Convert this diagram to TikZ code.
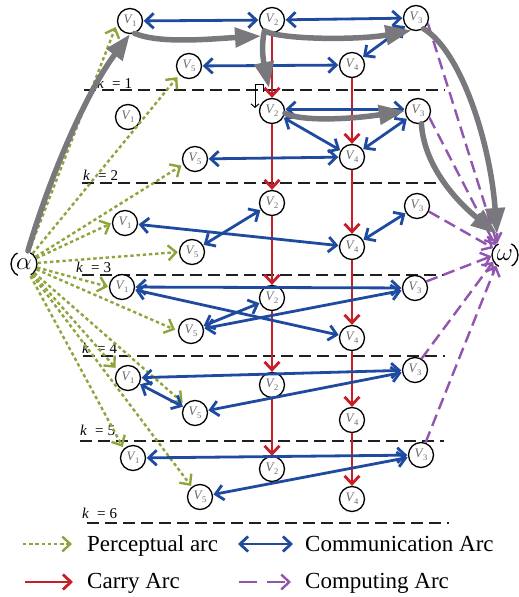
\documentclass[tikz,border=0pt]{standalone}
\usepackage{fontspec}
\setmainfont{Liberation Serif}
\usetikzlibrary{arrows.meta}

\definecolor{commblue}{HTML}{1E4BA0}
\definecolor{carryred}{HTML}{C81E28}
\definecolor{percgreen}{HTML}{8CA53C}
\definecolor{compviolet}{HTML}{9155AF}
\definecolor{pathgray}{HTML}{78787D}
\definecolor{labelgray}{HTML}{6A6A6A}

% node label V with a subscript index
\newcommand{\vlab}[1]{\textit{V}\kern-0.8pt\raisebox{-2.8pt}{\fontsize{8.5}{8.5}\selectfont #1}}
\newcommand{\klab}[1]{\textit{k}\hspace{8pt}=\hspace{4pt}#1}

\begin{document}
\begin{tikzpicture}[x=1pt, y=-1pt,
  vnode/.style={circle, draw=black, line width=1.3pt, minimum size=25pt, inner sep=0pt,
    fill=white, text=labelgray, font=\fontsize{13}{13}\selectfont},
  endnode/.style={circle, draw=black, line width=1.3pt, minimum size=26pt, inner sep=0pt,
    dash pattern=on 27.2pt off 13.6pt, dash phase=13.6pt, font=\fontsize{30}{30}\selectfont},
  barbtip/.tip={Straight Barb[length=8pt, width=15pt]},
  percarc/.style={draw=percgreen, line width=2.4pt, dash pattern=on 3.4pt off 2.8pt, -barbtip},
  commarc/.style={draw=commblue, line width=2.8pt, barbtip-barbtip, shorten <=0.5pt, shorten >=0.5pt},
  carryarc/.style={draw=carryred, line width=2.8pt, -barbtip},
  comparc/.style={draw=compviolet, line width=2.4pt, dash pattern=on 12pt off 6pt, -barbtip},
  patharc/.style={draw=pathgray, line width=5.5pt, line cap=round, -{Triangle[length=26pt, width=19pt]}},
  layerline/.style={draw=black!88, line width=1.5pt, dash pattern=on 12pt off 6pt},
  klabel/.style={anchor=base west, inner sep=0pt, font=\fontsize{15}{15}\selectfont},
  legtext/.style={anchor=base west, inner sep=0pt, font=\fontsize{23}{23}\selectfont},
]
\useasboundingbox (0,0) rectangle (519,597);

% time-slice separators and their labels
\draw[layerline] (84,90) -- (445,90);
\draw[layerline] (82,183) -- (445,183);
\draw[layerline] (82,275) -- (444,275);
\draw[layerline] (83,356) -- (445,356);
\draw[layerline] (80,441) -- (444,441);
\draw[layerline] (87,523) -- (449,523);
\node[klabel] (k1) at (97,88) {\klab{1}};
\node[klabel] (k2) at (83,180) {\klab{2}};
\node[klabel] (k3) at (76,272) {\klab{3}};
\node[klabel] (k4) at (82,353) {\klab{4}};
\node[klabel] (k5) at (80,435) {\klab{5}};
\node[klabel] (k6) at (82,518) {\klab{6}};

% source and sink
\node[endnode] (alpha) at (24,264) {$\alpha$};
\node[endnode] (omega) at (505,255) {$\omega$};

% slice 1
\node[vnode] (v11) at (130,21) {\vlab1};
\node[vnode] (v12) at (272,20) {\vlab2};
\node[vnode] (v13) at (416,18) {\vlab3};
\node[vnode] (v14) at (352,65) {\vlab4};
\node[vnode] (v15) at (189,66) {\vlab5};
% slice 2
\node[vnode] (v21) at (128,117) {\vlab1};
\node[vnode] (v22) at (272,111) {\vlab2};
\node[vnode] (v23) at (418,111) {\vlab3};
\node[vnode] (v24) at (352,157) {\vlab4};
\node[vnode] (v25) at (195,159) {\vlab5};
% slice 3
\node[vnode] (v31) at (125,223) {\vlab1};
\node[vnode] (v32) at (272,203) {\vlab2};
\node[vnode] (v33) at (417,206) {\vlab3};
\node[vnode] (v34) at (352,247) {\vlab4};
\node[vnode] (v35) at (192,252) {\vlab5};
% slice 4
\node[vnode] (v41) at (122,287) {\vlab1};
\node[vnode] (v42) at (272,298) {\vlab2};
\node[vnode] (v43) at (415,288) {\vlab3};
\node[vnode] (v44) at (352,338) {\vlab4};
\node[vnode] (v45) at (191,331) {\vlab5};
% slice 5
\node[vnode] (v51) at (128,378) {\vlab1};
\node[vnode] (v52) at (272,385) {\vlab2};
\node[vnode] (v53) at (415,370) {\vlab3};
\node[vnode] (v54) at (352,420) {\vlab4};
\node[vnode] (v55) at (195,413) {\vlab5};
% slice 6
\node[vnode] (v61) at (133,458) {\vlab1};
\node[vnode] (v62) at (272,469) {\vlab2};
\node[vnode] (v63) at (421,455) {\vlab3};
\node[vnode] (v64) at (352,499) {\vlab4};
\node[vnode] (v65) at (200,497) {\vlab5};

% perceptual arcs from the source
\draw[percarc, shorten >=4pt] (alpha) -- (v11.190);
\draw[percarc, shorten >=3pt] (alpha) -- (v15.222);
\draw[percarc, shorten >=2pt] (alpha) -- (v25.205);
\draw[percarc, shorten >=1pt] (alpha) -- (v31.west);
\draw[percarc, shorten >=1pt] (alpha) -- (v35.west);
\draw[percarc, shorten >=1pt] (alpha) -- (v41.west);
\draw[percarc, shorten >=3pt] (alpha) -- (v45.west);
\draw[percarc, shorten >=3pt] (alpha) -- (v51.143);
\draw[percarc, shorten >=3pt] (alpha) -- (v55.140);
\draw[percarc, shorten >=2pt] (alpha) -- (v61.135);
\draw[percarc, shorten >=1pt] (alpha) -- (v65.129);

% carry arcs between slices
\foreach \a/\b in {1/2,2/3,3/4,4/5,5/6} {
  \draw[carryarc] (v\a2) -- (v\b2);
  \draw[carryarc] (v\a4) -- (v\b4);
}

% communication arcs within slices
\draw[commarc] (v11) -- (v12);
\draw[commarc] (v12) -- (v13);
\draw[commarc] (v13) -- (v14);
\draw[commarc] (v15) -- (v14);
\draw[commarc] (v22.8) -- (v23.172);
\draw[commarc] (v22) -- (v24);
\draw[commarc] (v23) -- (v24);
\draw[commarc] (v25) -- (v24);
\draw[commarc] (v31) -- (v34);
\draw[commarc] (v35) -- (v32);
\draw[commarc] (v33) -- (v34);
\draw[commarc] (v41) -- (v43);
\draw[commarc] (v41) -- (v44);
\draw[commarc] (v45) -- (v42);
\draw[commarc] (v45) -- (v43);
\draw[commarc] (v51) -- (v53);
\draw[commarc] (v51) -- (v55);
\draw[commarc] (v55) -- (v53);
\draw[commarc] (v61) -- (v63);
\draw[commarc] (v65) -- (v63);

% computing arcs into the sink
\draw[comparc] (v13.-25) -- (omega.125);
\draw[comparc] (v23.-30) -- (omega.135);
\draw[comparc] (v33.-25) -- (omega.150);
\draw[comparc] (v43.30) -- (omega.185);
\draw[comparc] (v53.60) -- (omega.210);
\draw[comparc] (v63.70) -- (omega.230);

% small bent pointer under the second slice head
\coordinate (hookA) at (263,92);
\coordinate (hookB) at (255,84);
\coordinate (hookC) at (255,108);
\draw[line width=1pt, -{Straight Barb[length=3.5pt, width=8pt]}] (hookA) |- (hookB) -- (hookC);

% highlighted route
\coordinate (g2end) at (261,36);
\coordinate (g4end) at (269,88);
\coordinate (omegatip) at (497,234);
\draw[patharc] (alpha) .. controls (52,170) and (88,90) .. (v11.south);
\draw[patharc] (v11.-70) .. controls (160,44) and (210,39) .. (g2end);
\draw[patharc] (v12.240) .. controls (285,40) and (360,40) .. (v13.250);
\draw[patharc] (v12.235) .. controls (260,50) and (265,68) .. (g4end);
\draw[patharc] (v22.-10) .. controls (300,121) and (345,120) .. (v23.west);
\draw[patharc] (v13.-55) .. controls (460,50) and (490,140) .. (omegatip);
\draw[patharc] (v23.-75) .. controls (424,165) and (455,200) .. (omegatip);

% legend
\coordinate (lgA1) at (23,544); \coordinate (lgA2) at (72,544);
\coordinate (lgB1) at (238,544); \coordinate (lgB2) at (293,544);
\coordinate (lgC1) at (25,582); \coordinate (lgC2) at (73,582);
\coordinate (lgD1) at (239,582); \coordinate (lgD2) at (291,582);
\draw[percarc] (lgA1) -- (lgA2);
\draw[commarc, shorten <=0pt, shorten >=0pt] (lgB1) -- (lgB2);
\draw[carryarc] (lgC1) -- (lgC2);
\draw[comparc, dash pattern=on 18pt off 10pt] (lgD1) -- (lgD2);
\node[legtext] (tA) at (87,551) {Perceptual arc};
\node[legtext] (tB) at (305,551) {Communication Arc};
\node[legtext] (tC) at (87,588) {Carry Arc};
\node[legtext] (tD) at (305,588) {Computing Arc};
\end{tikzpicture}
\end{document}
